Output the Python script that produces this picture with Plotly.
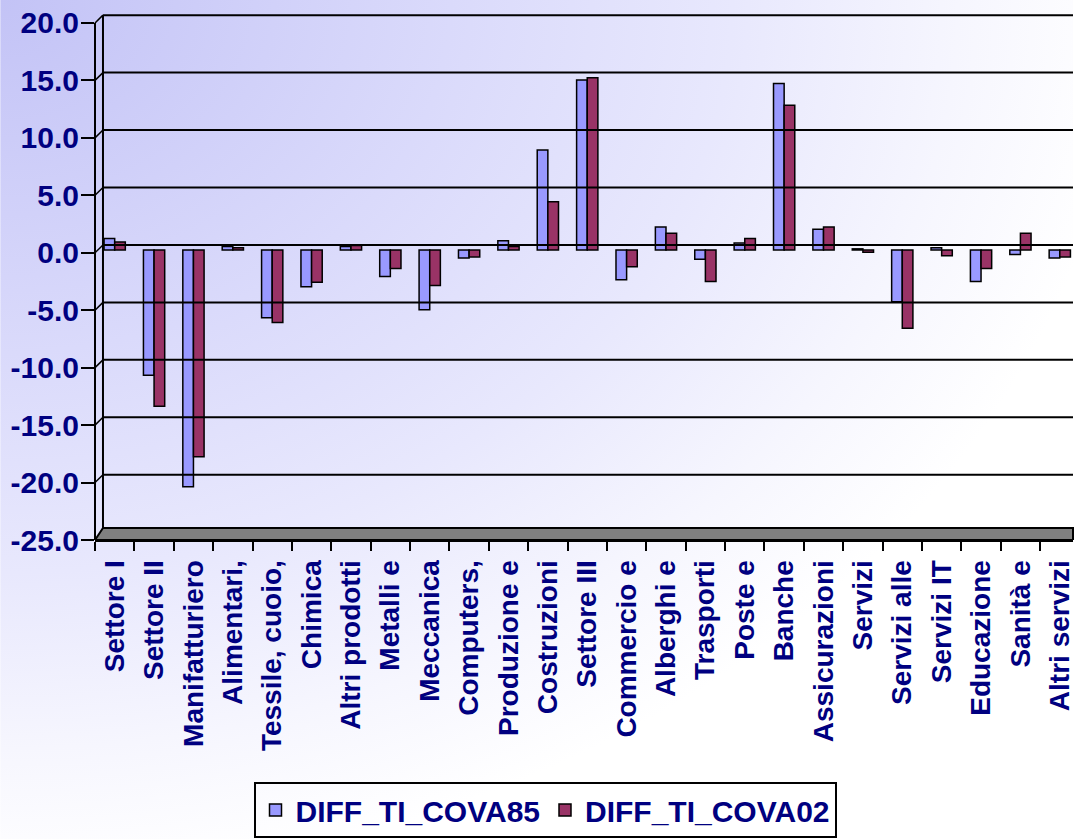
import base64

import plotly.graph_objects as go

categories = [
    "Settore I", "Settore II", "Manifatturiero", "Alimentari,", "Tessile, cuoio,",
    "Chimica", "Altri prodotti", "Metalli e", "Meccanica", "Computers,",
    "Produzione e", "Costruzioni", "Settore III", "Commercio e", "Alberghi e",
    "Trasporti", "Poste e", "Banche", "Assicurazioni", "Servizi",
    "Servizi alle", "Servizi IT", "Educazione", "Sanità e", "Altri servizi",
]
cova85 = [1.0, -10.9, -20.6, 0.3, -5.9, -3.2, 0.3, -2.3, -5.2, -0.7,
          0.8, 8.7, 14.8, -2.6, 2.0, -0.8, 0.6, 14.5, 1.8, 0.1,
          -4.5, 0.2, -2.75, -0.4, -0.7]
cova02 = [0.7, -13.6, -18.0, 0.2, -6.3, -2.8, 0.4, -1.6, -3.1, -0.6,
          0.3, 4.2, 15.0, -1.45, 1.45, -2.75, 1.0, 12.6, 2.0, -0.2,
          -6.8, -0.5, -1.6, 1.45, -0.6]
y_ticks = [-25, -20, -15, -10, -5, 0, 5, 10, 15, 20]

W, H = 1075, 839
ML, MT, MB = 95, 14, 299
PLOT_W = W - ML
PLOT_H = H - MT - MB
PPU = 11.49  # pixels per unit on the value axis
Y_MIN = -25
Y_MAX = Y_MIN + PLOT_H / PPU
CAT_W = 39.46
DEPTH_X = 8 / PLOT_W   # 3D wall offset (paper units)
DEPTH_Y = 7.8 / PPU    # 3D wall offset (value units)
BAR_BASE_PX = 250
NAVY = "#000080"
FONT = "Arial, Liberation Sans, sans-serif"

# background gradient as svg image
svg = f"""<svg xmlns="http://www.w3.org/2000/svg" width="{W}" height="{H}" preserveAspectRatio="none">
<defs><radialGradient id="g" cx="0" cy="0" r="1.05" gradientUnits="objectBoundingBox">
<stop offset="0" stop-color="#c3c3f6"/>
<stop offset="0.4" stop-color="#dadafb"/>
<stop offset="0.65" stop-color="#e8e8fd"/>
<stop offset="0.85" stop-color="#f6f6fe"/>
<stop offset="1" stop-color="#ffffff"/>
</radialGradient></defs>
<rect width="{W}" height="{H}" fill="url(#g)"/></svg>"""
bg_src = "data:image/svg+xml;base64," + base64.b64encode(svg.encode()).decode()

fig = go.Figure()
fig.add_trace(go.Bar(x=categories, y=cova85, name="<b>DIFF_TI_COVA85</b>", yaxis="y2",
                     marker=dict(color="#9999ff", line=dict(color="black", width=1.5))))
fig.add_trace(go.Bar(x=categories, y=cova02, name="<b>DIFF_TI_COVA02</b>", yaxis="y2",
                     marker=dict(color="#993366", line=dict(color="black", width=1.5))))

shapes = []
# back wall gridlines
for v in y_ticks[1:]:
    shapes.append(dict(type="line", xref="paper", yref="y", x0=DEPTH_X, x1=1,
                       y0=v + DEPTH_Y, y1=v + DEPTH_Y, line=dict(color="black", width=2)))
# tick diagonals to the back wall
for v in y_ticks:
    shapes.append(dict(type="line", xref="paper", yref="y", x0=0, x1=DEPTH_X,
                       y0=v, y1=v + DEPTH_Y, line=dict(color="black", width=1.5)))
# front and back vertical walls
shapes.append(dict(type="line", xref="paper", yref="y", x0=0, x1=0, y0=-25, y1=20,
                   line=dict(color="black", width=2)))
shapes.append(dict(type="line", xref="paper", yref="y", x0=DEPTH_X, x1=DEPTH_X,
                   y0=-25 + DEPTH_Y, y1=20 + DEPTH_Y, line=dict(color="black", width=2)))
# floor
fy0, fy1 = -25, -25 + 12 / PPU
shapes.append(dict(type="path", xref="paper", yref="y", layer="above",
                   path=f"M 0,{fy0} L {DEPTH_X},{fy1} L 1,{fy1} L 1,{fy0} Z",
                   fillcolor="#808080", line=dict(color="black", width=2)))

x_range = [-0.5, -0.5 + PLOT_W / CAT_W]

fig.update_layout(
    width=W, height=H,
    margin=dict(l=ML, r=0, t=MT, b=MB, pad=0),
    paper_bgcolor="white",
    plot_bgcolor="rgba(0,0,0,0)",
    barmode="group", bargap=0.46, bargroupgap=0,
    font=dict(family=FONT, color=NAVY, size=28),
    images=[dict(source=bg_src, xref="paper", yref="paper",
                 x=-ML / PLOT_W, y=1 + MT / PLOT_H, sizex=W / PLOT_W, sizey=H / PLOT_H,
                 xanchor="left", yanchor="top", sizing="stretch", layer="below")],
    shapes=shapes,
    showlegend=True,
    legend=dict(orientation="h", xref="container", yref="container",
                x=545 / W, xanchor="center", y=1 / H, yanchor="bottom",
                bordercolor="black", borderwidth=2, bgcolor="rgba(255,255,255,0)",
                font=dict(family=FONT, color=NAVY, size=30),
                tracegroupgap=0, itemwidth=30),
    xaxis=dict(type="category", range=x_range,
               tickvals=categories, ticktext=[f"<b>{c}</b>" for c in categories],
               showline=True, linecolor="black", linewidth=2,
               ticks="outside", ticklen=9, tickcolor="black", tickwidth=1.5,
               tickson="boundaries", tickangle=-90, ticklabelstandoff=7,
               showgrid=False, zeroline=False,
               tickfont=dict(family=FONT, color=NAVY, size=28)),
    xaxis2=dict(overlaying="x", anchor="free",
                position=(0 - Y_MIN) * PPU / PLOT_H,
                type="linear", range=x_range,
                tickvals=[i - 0.5 for i in range(len(categories) + 1)],
                showticklabels=False, showline=True, linecolor="black", linewidth=2,
                ticks="outside", ticklen=8, tickcolor="black", tickwidth=1.5,
                showgrid=False, zeroline=False),
    yaxis=dict(range=[Y_MIN, Y_MAX], tickvals=y_ticks,
               ticktext=[f"<b>{v:.1f}</b>" for v in y_ticks],
               ticks="outside", ticklen=13, tickcolor="black", tickwidth=1.5,
               ticklabelstandoff=-4,
               showline=False, showgrid=False, zeroline=False,
               tickfont=dict(family=FONT, color=NAVY, size=30)),
    yaxis2=dict(overlaying="y", visible=False,
                range=[-(MT + PLOT_H - BAR_BASE_PX) / PPU, (BAR_BASE_PX - MT) / PPU]),
)

fig.write_html("out.html", config={"displayModeBar": False},
               post_script="document.body.style.margin='0';document.body.style.overflow='hidden';")
